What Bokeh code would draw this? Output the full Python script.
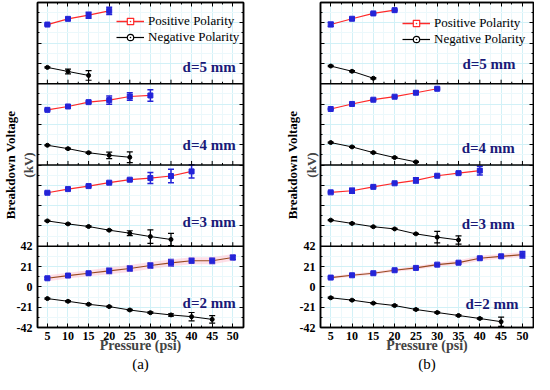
from bokeh.plotting import figure
from bokeh.models import (Range1d, LinearAxis, FixedTicker, SingleIntervalTicker, Span, Title,
                          Legend, LegendItem, Whisker, ColumnDataSource, TeeHead, Label)
from bokeh.layouts import row
from bokeh.embed import file_html
from bokeh.resources import INLINE

pressure = [5, 10, 15, 20, 25, 30, 35, 40, 45, 50]
gaps = ["d=2 mm", "d=3 mm", "d=4 mm", "d=5 mm"]
y_tick_labels = {-42: "-42", -21: "-21", 0: "0", 21: "21", 42: "42"}

# ---------- panel (a) ----------
a_pos_2 = [8.9, 11.7, 14.1, 16.6, 19.0, 22.1, 24.9, 27.0, 27.0, 30.4]
a_pos_2_err = [1.0, 0.8, 1.0, 2.7, 2.9, 2.9, 3.4, 2.7, 2.9, 2.4]
a_neg_2 = [-12.1, -14.9, -18.0, -20.4, -23.9, -26.7, -29.0, -30.8, -33.6]
a_neg_2_err = [0.6, 0.6, 0.6, 0.6, 0.6, 0.8, 1.2, 4.3, 3.8]
a_band_2 = [3.0, 3.0, 3.0, 3.5, 3.5, 3.5, 3.5, 3.5, 3.5, 3.5]

a_pos_3 = [13.3, 17.1, 20.2, 23.7, 26.8, 28.5, 30.6, 35.4]
a_pos_3_err = [0.8, 0.6, 0.6, 0.6, 1.0, 5.7, 6.9, 6.9]
a_neg_3 = [-15.8, -18.9, -21.6, -25.4, -28.5, -32.0, -35.0]
a_neg_3_err = [0.5, 0.5, 0.6, 0.6, 2.5, 7.0, 6.4]

a_pos_4 = [15.0, 18.5, 23.0, 25.1, 28.8, 29.9]
a_pos_4_err = [0.6, 0.6, 0.8, 4.3, 3.8, 6.0]
a_neg_4 = [-21.6, -25.1, -29.3, -32.0, -34.0]
a_neg_4_err = [0.5, 0.5, 0.6, 3.4, 5.5]

a_pos_5 = [19.2, 25.1, 28.9, 33.4]
a_pos_5_err = [0.6, 0.8, 3.1, 3.8]
a_neg_5 = [-25.1, -29.3, -33.4]
a_neg_5_err = [0.6, 2.4, 5.0]

# ---------- panel (b) ----------
b_pos_2 = [9.6, 12.0, 14.1, 17.2, 19.6, 23.0, 25.0, 29.6, 31.6, 33.3]
b_pos_2_err = [0.8, 0.8, 0.8, 0.8, 0.8, 0.8, 0.8, 0.8, 0.8, 3.4]
b_neg_2 = [-11.3, -13.7, -16.8, -19.3, -23.4, -26.5, -29.6, -32.7, -36.0]
b_neg_2_err = [0.6, 0.6, 0.6, 0.6, 0.6, 0.6, 0.6, 0.6, 4.8]
b_band_2 = [1.5, 1.5, 1.5, 1.5, 2.0, 2.0, 2.5, 2.5, 2.5, 2.5]

b_pos_3 = [13.7, 15.4, 19.4, 23.1, 26.1, 30.9, 33.6, 36.2]
b_pos_3_err = [0.6, 2.5, 0.6, 0.6, 2.7, 0.6, 1.0, 4.6]
b_neg_3 = [-15.0, -18.4, -21.8, -24.1, -29.2, -32.6, -35.5]
b_neg_3_err = [0.5, 0.5, 0.5, 0.5, 0.6, 6.0, 4.3]

b_pos_4 = [15.9, 21.1, 25.5, 28.6, 32.7, 36.8]
b_pos_4_err = [0.6, 0.6, 0.6, 0.6, 1.5, 0.8]
b_neg_4 = [-18.8, -23.3, -29.2, -34.3, -38.8]
b_neg_4_err = [0.5, 0.5, 0.5, 0.5, 0.6]

b_pos_5 = [19.3, 25.2, 30.7, 34.1]
b_pos_5_err = [2.2, 0.8, 0.6, 0.6]
b_neg_5 = [-23.7, -29.1, -36.3]
b_neg_5_err = [0.6, 0.6, 0.6]

SERIF = "Liberation Serif"
RED = "#ff2a2a"
BROWN = "#9a4a22"
BLUE = "#2424d8"
NAVY = "#1a1a78"
NAN = float("nan")


def style_axis(ax, show_labels):
    ax.axis_line_color = "black"
    ax.axis_line_width = 1.5
    ax.major_tick_in = 4
    ax.major_tick_out = 0
    ax.minor_tick_in = 2
    ax.minor_tick_out = 0
    ax.major_tick_line_color = "black"
    ax.minor_tick_line_color = "black"
    ax.major_label_text_font = SERIF
    ax.major_label_text_font_style = "bold"
    ax.major_label_text_color = "black"
    if show_labels:
        ax.major_label_text_font_size = "12px"
    else:
        ax.major_label_text_font_size = "1px"
        ax.major_label_text_alpha = 0
        ax.major_label_standoff = 0


def make_panel(pos, pos_err, neg, neg_err, band, label_pos, letter, width, left, right, legend_loc,
               kv_standoff, title_standoff):
    p = figure(width=width, height=374, x_range=Range1d(2.6, 52.6), y_range=Range1d(-42, 294),
               output_backend="svg", toolbar_location=None,
               min_border_left=left, min_border_right=right, min_border_top=2, min_border_bottom=47)
    p.background_fill_color = "white"
    p.border_fill_color = "white"
    p.outline_line_color = "black"
    p.outline_line_width = 1.5

    for k in range(4):
        p.extra_y_ranges[f"b{k}"] = Range1d(-42 - 84 * k, 294 - 84 * k)

    yt = [-42 + 21 * i for i in range(17)]
    ymt = [-42 + 10.5 * i for i in range(33)]
    yticker = FixedTicker(ticks=yt, minor_ticks=ymt)
    xticker = SingleIntervalTicker(interval=5, num_minor_ticks=2)

    xa = p.xaxis[0]
    ya = p.yaxis[0]
    xa.ticker = xticker
    ya.ticker = yticker
    ya.major_label_overrides = {t: y_tick_labels.get(t, "") for t in yt}

    p.xgrid.ticker = xticker
    p.ygrid.ticker = yticker
    for g in (p.xgrid, p.ygrid):
        g.grid_line_color = "#d2f1f7"
        g.grid_line_width = 1
        g.minor_grid_line_color = "#ecf8fb"

    top = LinearAxis(ticker=xticker)
    rgt = LinearAxis(ticker=yticker)
    p.add_layout(top, "above")
    p.add_layout(rgt, "right")
    style_axis(xa, True)
    style_axis(ya, True)
    style_axis(top, False)
    style_axis(rgt, False)

    xa.major_label_standoff = 4
    ya.major_label_standoff = 5
    xa.axis_label = "Pressure (psi)"
    xa.axis_label_text_font = SERIF
    xa.axis_label_text_font_style = "bold"
    xa.axis_label_text_font_size = "14px"
    xa.axis_label_standoff = -5

    ya.axis_label = "(kV)"
    ya.axis_label_text_font = SERIF
    ya.axis_label_text_font_style = "bold"
    ya.axis_label_text_font_size = "13px"
    ya.axis_label_standoff = kv_standoff

    p.add_layout(Title(text="Breakdown Voltage", align="center", text_font=SERIF,
                       text_font_style="bold", text_font_size="13px", text_color="black",
                       standoff=title_standoff), "left")
    p.add_layout(Title(text=letter, align="center", text_font=SERIF, text_font_style="normal",
                       text_font_size="15px", text_color="black", standoff=-4), "below")

    # separators between stacked sub-panels, with inward ticks
    seps = [42 + 84 * i for i in range(3)]
    for s in seps:
        p.add_layout(Span(location=s, dimension="width", line_color="black", line_width=1.5))
    maj = [5 * i for i in range(1, 11)]
    mnr = [2.5 + 5 * i for i in range(1, 10)]
    sx0, sy0, sy1 = [], [], []
    for s in seps:
        for t in maj:
            sx0.append(t); sy0.append(s); sy1.append(s + 4.2)
        for t in mnr:
            sx0.append(t); sy0.append(s); sy1.append(s + 2.1)
    p.segment(x0=sx0, y0=sy0, x1=sx0, y1=sy1, line_color="black", line_width=1)

    for k in range(4):
        rn = f"b{k}"
        px = pressure[:len(pos[k])]
        nx = pressure[:len(neg[k])]
        if band[k] is not None:
            p.varea(x=px, y1=[v - b for v, b in zip(pos[k], band[k])],
                    y2=[v + b for v, b in zip(pos[k], band[k])],
                    fill_color="#ffc4d4", fill_alpha=0.55, y_range_name=rn)
        p.line(px, pos[k], line_color=BROWN if k == 0 else RED, line_width=1.2, y_range_name=rn)
        p.line(nx, neg[k], line_color="black", line_width=1, y_range_name=rn)
        ps = ColumnDataSource(dict(x=px, lo=[v - e for v, e in zip(pos[k], pos_err[k])],
                                   hi=[v + e for v, e in zip(pos[k], pos_err[k])]))
        ns = ColumnDataSource(dict(x=nx, lo=[v - e for v, e in zip(neg[k], neg_err[k])],
                                   hi=[v + e for v, e in zip(neg[k], neg_err[k])]))
        p.add_layout(Whisker(source=ps, base="x", lower="lo", upper="hi", y_range_name=rn,
                             line_color=BLUE, line_width=1.5,
                             upper_head=TeeHead(size=6, line_color=BLUE, line_width=1.5),
                             lower_head=TeeHead(size=6, line_color=BLUE, line_width=1.5)))
        p.add_layout(Whisker(source=ns, base="x", lower="lo", upper="hi", y_range_name=rn,
                             line_color="black", line_width=1.2,
                             upper_head=TeeHead(size=6, line_color="black", line_width=1.2),
                             lower_head=TeeHead(size=6, line_color="black", line_width=1.2)))
        p.scatter(px, pos[k], marker="square", size=5, fill_color=BLUE, line_color=BLUE,
                  y_range_name=rn)
        p.scatter(nx, neg[k], marker="circle", size=4, fill_color="black", line_color="black",
                  y_range_name=rn)
        lx, ly = label_pos[k]
        p.add_layout(Label(x=lx, y=ly, y_range_name=rn, text=gaps[k], text_align="right",
                           text_baseline="middle", text_font=SERIF, text_font_style="bold",
                           text_font_size="15px", text_color=NAVY))

    # legend (symbols only; the NaN point is never drawn in the plot area)
    lr1 = p.line([NAN], [NAN], line_color=RED, line_width=1.5)
    ls1 = p.scatter([NAN], [NAN], marker="square_dot", size=8, line_color=RED, fill_color="white",
                    line_width=1.2)
    lr2 = p.line([NAN], [NAN], line_color="black", line_width=1.2)
    ls2 = p.scatter([NAN], [NAN], marker="circle_dot", size=8, line_color="black",
                    fill_color="white", line_width=1.2)
    leg = Legend(items=[LegendItem(label="Positive Polarity", renderers=[lr1, ls1]),
                        LegendItem(label="Negative Polarity", renderers=[lr2, ls2])],
                 location=legend_loc, background_fill_alpha=0, border_line_alpha=0,
                 padding=0, margin=0, spacing=0, glyph_height=16, label_height=16,
                 glyph_width=28, label_standoff=4, label_text_font=SERIF,
                 label_text_font_size="13px", label_text_color="black")
    p.add_layout(leg)
    return p


pa = make_panel([a_pos_2, a_pos_3, a_pos_4, a_pos_5],
                [a_pos_2_err, a_pos_3_err, a_pos_4_err, a_pos_5_err],
                [a_neg_2, a_neg_3, a_neg_4, a_neg_5],
                [a_neg_2_err, a_neg_3_err, a_neg_4_err, a_neg_5_err],
                [a_band_2, None, None, None],
                [(50.7, -17.0), (50.7, -17.1), (50.7, -21.3), (50.7, -24.4)],
                "(a)", 268, 31, 25, (79, 282), -22, 0)
pb = make_panel([b_pos_2, b_pos_3, b_pos_4, b_pos_5],
                [b_pos_2_err, b_pos_3_err, b_pos_4_err, b_pos_5_err],
                [b_neg_2, b_neg_3, b_neg_4, b_neg_5],
                [b_neg_2_err, b_neg_3_err, b_neg_4_err, b_neg_5_err],
                [b_band_2, None, None, None],
                [(49.1, -17.2), (48.2, -18.5), (48.2, -24.0), (48.4, -21.9)],
                "(b)", 266, 52, 1, (82, 280), -22, 2)

layout = row(pa, pb, spacing=0)
open("out.html", "w").write(file_html(layout, INLINE))
